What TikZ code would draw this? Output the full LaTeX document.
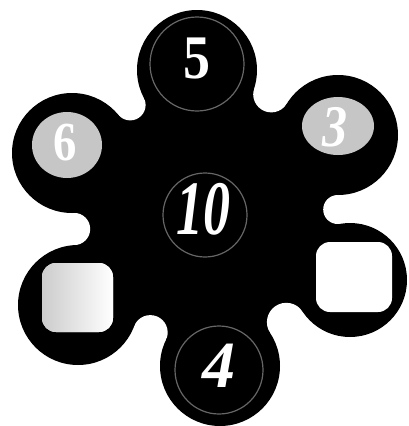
\documentclass[tikz,border=0pt]{standalone}
\usepackage{fontspec}
\setmainfont{Liberation Serif}

\begin{document}
\begin{tikzpicture}[x=1pt,y=-1pt,
 lobe/.style={fill=black},
 notch/.style={fill=white},
 ring/.style={draw=black!60,line width=1.2pt},
 pad/.style={fill=white,rounded corners=14pt},
 num/.style={text=white,inner sep=0pt}]
\useasboundingbox (0,0) rectangle (409,426);
% lobe centres
\coordinate (c5) at (197,70);
\coordinate (c3) at (338,135);
\coordinate (cr) at (350,280);
\coordinate (c4) at (220,366);
\coordinate (cl) at (78,305);
\coordinate (c6) at (72,153);
% notch centres (tangent to both neighbours)
\coordinate (n1) at (271.3,94.3);
\coordinate (n2) at (337.7,209.5);
\coordinate (n3) at (286.3,322.2);
\coordinate (n4) at (150.3,332.5);
\coordinate (n5) at (74.1,229);
\coordinate (n6) at (130.2,105);
% body
\fill (c5) -- (n1) -- (c3) -- (n2) -- (cr) -- (n3) -- (c4) -- (n4) -- (cl) -- (n5) -- (c6) -- (n6) -- cycle;
\fill[notch] (n1) circle[radius=18.1pt] (n2) circle[radius=14.5pt] (n3) circle[radius=19.4pt]
 (n4) circle[radius=17.4pt] (n5) circle[radius=16.1pt] (n6) circle[radius=15.4pt];
\fill[lobe] (c5) circle[radius=60pt] (c3) circle[radius=60pt] (cr) circle[radius=57pt]
 (c4) circle[radius=60pt] (cl) circle[radius=60pt] (c6) circle[radius=60pt];
% insets
\draw[ring] (197,64) circle[radius=47pt];
\draw[ring] (219,370) circle[radius=44pt];
\draw[ring] (205,215) circle[radius=42pt];
\fill[gray!45] (338,126) ellipse[x radius=36pt,y radius=29pt];
\fill[gray!45] (67,145) ellipse[x radius=35pt,y radius=33pt];
\shade[pad,left color=gray!40,right color=white] (42,263) rectangle (113,332);
\fill[pad] (316,242) rectangle (392,312);
% numbers
\node[num,font=\fontsize{62}{62}\selectfont\bfseries,xscale=0.87] (five) at (197,59) {5};
\node[num,font=\fontsize{59}{59}\selectfont\bfseries\itshape,xscale=0.85] (three) at (335,127) {3};
\node[num,font=\fontsize{55}{55}\selectfont\bfseries,xscale=0.85] (six) at (65,143) {6};
\node[num,font=\fontsize{77}{77}\selectfont\bfseries\itshape,xscale=0.7] (ten) at (203,209) {10};
\node[num,font=\fontsize{66}{66}\selectfont\bfseries\itshape] (four) at (219,366) {4};
\end{tikzpicture}
\end{document}
